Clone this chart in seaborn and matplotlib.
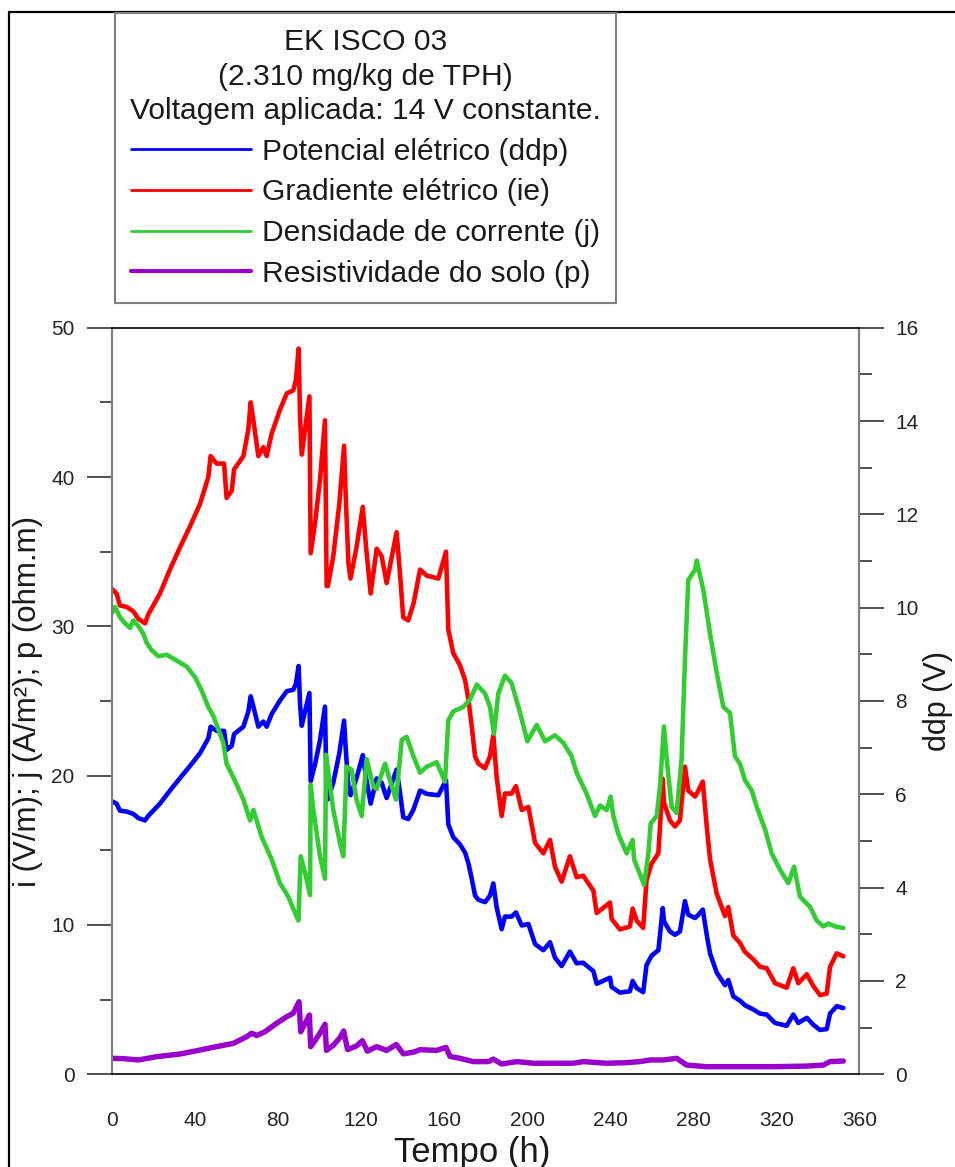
import matplotlib
matplotlib.use("Agg")
import matplotlib.pyplot as plt
import seaborn as sns
from matplotlib.lines import Line2D
from matplotlib.patches import Rectangle
from matplotlib.ticker import MultipleLocator

sns.set_style("white")
plt.rcParams["font.family"] = ["Liberation Sans", "DejaVu Sans"]

# Time (h) of the potential / gradient readings
tempo_ie = [0, 2.2, 3.8, 7.1, 10.3, 12.7, 15.9, 17.5, 23.1, 27.9, 32.8, 37.6, 42.4, 46.4, 47.5,
            50.4, 54.0, 55.2, 57.7, 58.8, 63.3, 65.7, 66.8, 68.1, 70.5, 72.9, 74.5, 76.9, 80.9,
            84.2, 87.3, 88.6, 89.9, 90.6, 91.4, 93.0, 95.1, 95.7, 97.8, 100.2, 102.6, 103.4,
            104.0, 106.6, 109.5, 111.8, 112.6, 113.9, 114.9, 117.8, 120.8, 122.4, 124.6, 127.5,
            129.9, 132.3, 137.1, 138.7, 140.3, 142.7, 145.2, 148.4, 151.6, 157.2, 160.9, 162.0,
            164.4, 167.6, 170.1, 171.7, 173.3, 174.9, 176.5, 179.7, 182.1, 183.7, 185.3, 187.7,
            189.3, 192.5, 194.6, 197.4, 200.6, 203.8, 207.8, 211.0, 213.4, 216.6, 220.6, 223.8,
            227.0, 231.9, 233.5, 239.9, 240.7, 244.7, 249.5, 250.8, 252.7, 255.9, 257.5, 259.9,
            263.2, 264.0, 265.3, 265.9, 268.8, 271.2, 273.6, 276.0, 277.6, 280.9, 282.5, 284.6,
            286.5, 288.1, 291.3, 295.3, 296.9, 299.3, 302.5, 304.9, 308.9, 312.2, 315.4, 319.4,
            325.0, 328.2, 330.6, 334.7, 337.9, 341.1, 344.3, 345.9, 349.1, 352.3]

# Gradiente elétrico (V/m)
ie = [32.5, 32.2, 31.4, 31.3, 31.0, 30.5, 30.2, 30.8, 32.2, 33.8, 35.3, 36.7, 38.2, 40.0, 41.4,
      40.9, 40.9, 38.6, 39.1, 40.5, 41.4, 43.2, 45.0, 43.8, 41.4, 42.0, 41.4, 42.9, 44.5,
      45.6, 45.8, 46.5, 48.6, 44.0, 41.5, 43.2, 45.4, 34.9, 36.9, 39.8, 43.8, 32.7,
      32.7, 34.7, 38.2, 42.1, 38.7, 34.2, 33.2, 35.3, 38.0, 35.3, 32.2, 35.2,
      34.7, 32.9, 36.3, 33.6, 30.6, 30.4, 31.5, 33.8, 33.4, 33.2, 35.0, 29.8,
      28.2, 27.4, 26.4, 25.1, 23.3, 21.3, 20.8, 20.5, 21.3, 22.7, 19.9, 17.3,
      18.8, 18.8, 19.3, 17.7, 17.9, 15.5, 14.8, 15.7, 13.9, 12.9, 14.6, 13.2,
      13.3, 12.3, 10.8, 11.5, 10.4, 9.7, 9.9, 11.1, 10.3, 9.8, 13.0, 14.1,
      14.8, 16.6, 19.8, 18.2, 17.0, 16.6, 17.0, 20.6, 19.0, 18.6, 19.0, 19.6,
      16.6, 14.4, 12.1, 10.6, 11.2, 9.3, 8.8, 8.2, 7.7, 7.2, 7.1, 6.1,
      5.8, 7.1, 6.1, 6.7, 5.9, 5.3, 5.4, 7.2, 8.1, 7.9]

# Potencial elétrico (V)
ddp = [5.85, 5.80, 5.65, 5.63, 5.58, 5.49, 5.44, 5.54, 5.80, 6.08, 6.35, 6.61, 6.88, 7.20, 7.45,
       7.36, 7.36, 6.95, 7.04, 7.29, 7.45, 7.78, 8.10, 7.88, 7.45, 7.56, 7.45, 7.72, 8.01,
       8.21, 8.24, 8.37, 8.75, 7.92, 7.47, 7.78, 8.17, 6.28, 6.64, 7.16, 7.88, 5.89,
       5.89, 6.25, 6.88, 7.58, 6.97, 6.16, 5.98, 6.35, 6.84, 6.35, 5.80, 6.34,
       6.25, 5.92, 6.53, 6.05, 5.51, 5.47, 5.67, 6.08, 6.01, 5.98, 6.30, 5.36,
       5.08, 4.93, 4.75, 4.52, 4.19, 3.83, 3.74, 3.69, 3.83, 4.09, 3.58, 3.11,
       3.38, 3.38, 3.47, 3.19, 3.22, 2.79, 2.66, 2.83, 2.50, 2.32, 2.63, 2.38,
       2.39, 2.21, 1.94, 2.07, 1.87, 1.75, 1.78, 2.00, 1.85, 1.76, 2.34, 2.54,
       2.66, 2.99, 3.56, 3.28, 3.06, 2.99, 3.06, 3.71, 3.42, 3.35, 3.42, 3.53,
       2.99, 2.59, 2.18, 1.91, 2.02, 1.67, 1.58, 1.48, 1.39, 1.30, 1.28, 1.10,
       1.04, 1.28, 1.10, 1.21, 1.06, 0.95, 0.97, 1.30, 1.46, 1.42]

# Densidade de corrente (A/m²)
tempo_j = [0, 1.4, 3.9, 6.3, 8.7, 10.3, 12.7, 15.1, 16.7, 19.1, 22.3, 26.3, 31.2, 36.0, 40.0,
           43.2, 46.4, 48.8, 53.6, 55.2, 58.4, 63.3, 66.5, 68.1, 72.1, 76.9, 80.9, 84.9, 88.2,
           89.8, 90.9, 93.0, 95.4, 95.7, 97.0, 100.2, 102.6, 103.1, 106.6, 109.8, 111.4, 113.0,
           115.4, 117.8, 120.3, 122.7, 125.8, 127.5, 131.5, 133.9, 136.8, 139.6, 141.9, 145.2,
           148.4, 151.6, 156.4, 160.4, 162.0, 164.4, 169.2, 172.5, 175.7, 179.7, 182.1, 184.0,
           186.1, 189.3, 192.5, 196.6, 200.1, 204.6, 208.6, 213.4, 217.4, 221.4, 223.8, 228.6,
           232.7, 235.1, 238.3, 240.2, 241.5, 243.9, 247.9, 250.8, 251.5, 256.3, 258.4, 259.5,
           262.4, 264.0, 265.9, 267.2, 269.6, 272.0, 274.4, 276.0, 277.6, 280.9, 281.7, 284.9,
           288.1, 291.3, 294.5, 297.7, 300.1, 302.5, 304.9, 308.2, 310.6, 314.6, 317.8, 321.8,
           325.8, 328.6, 331.4, 336.3, 339.5, 342.7, 345.1, 348.3, 352.3]
j = [30.9, 31.3, 30.6, 30.2, 29.9, 30.4, 30.0, 29.5, 28.9, 28.4, 28.0, 28.1, 27.7, 27.3, 26.6,
     25.7, 24.6, 24.0, 22.2, 20.8, 19.9, 18.4, 17.0, 17.7, 15.9, 14.4, 12.8, 11.9, 10.8,
     10.3, 14.6, 13.5, 12.0, 19.4, 17.7, 14.6, 13.1, 21.4, 17.7, 15.5, 14.6, 20.6,
     20.4, 18.4, 17.3, 21.1, 19.3, 19.1, 20.8, 19.7, 18.4, 22.4, 22.6, 21.3,
     20.2, 20.6, 20.9, 19.6, 23.7, 24.3, 24.6, 25.1, 26.1, 25.5, 24.6, 22.8,
     25.5, 26.7, 26.2, 24.2, 22.3, 23.4, 22.3, 22.7, 22.2, 21.3, 20.2, 18.8,
     17.3, 18.0, 17.7, 18.6, 17.3, 16.1, 14.8, 15.7, 14.4, 12.7, 14.8, 16.8,
     17.3, 19.3, 23.3, 21.1, 17.9, 17.5, 21.1, 27.7, 33.1, 33.8, 34.4, 32.4,
     29.5, 26.9, 24.6, 24.2, 21.3, 20.8, 19.7, 19.0, 17.9, 16.4, 14.8, 13.7,
     12.8, 13.9, 11.9, 11.2, 10.3, 9.9, 10.1, 9.9, 9.8]

# Resistividade do solo (ohm.m)
tempo_p = [0, 5.4, 12.7, 21.5, 32.8, 40.8, 48.8, 58.4, 64.9, 67.3, 69.7, 73.7, 79.3, 84.2, 87.3,
           90.1, 90.9, 93.0, 95.1, 95.7, 97.5, 100.2, 102.6, 103.3, 106.6, 109.8, 111.6, 113.5,
           117.8, 120.6, 123.0, 127.5, 132.3, 137.0, 140.3, 145.2, 148.4, 156.4, 160.9, 162.8,
           167.6, 174.1, 181.4, 183.7, 187.7, 195.0, 203.0, 212.6, 222.2, 227.0, 238.3, 247.9,
           254.3, 259.2, 265.6, 272.0, 276.8, 286.4, 302.5, 318.6, 334.7, 342.7, 345.9, 352.3]
p = [1.07, 1.05, 0.96, 1.18, 1.36, 1.58, 1.81, 2.07, 2.52, 2.75, 2.60, 2.85, 3.42, 3.86, 4.09,
     4.86, 2.85, 3.40, 3.97, 1.85, 2.20, 2.75, 3.35, 1.60, 1.95, 2.45, 2.90, 1.65,
     1.90, 2.25, 1.55, 1.85, 1.60, 2.00, 1.37, 1.48, 1.65, 1.60, 1.80, 1.20,
     1.07, 0.85, 0.85, 1.02, 0.69, 0.85, 0.74, 0.74, 0.74, 0.85, 0.74, 0.78,
     0.85, 0.96, 0.96, 1.07, 0.62, 0.51, 0.51, 0.51, 0.55, 0.62, 0.85, 0.89]

cor_ddp, cor_ie, cor_j, cor_p = "#0000FF", "#FF0000", "#33CC33", "#9900CC"
rotulos = ["Potencial elétrico (ddp)", "Gradiente elétrico (ie)",
           "Densidade de corrente (j)", "Resistividade do solo (p)"]

W, H = 955, 1167
fig = plt.figure(figsize=(W / 100, H / 100), dpi=100)
x0, x1, y0, y1 = 112, 859.3, 327.7, 1074.3
ax = fig.add_axes([x0 / W, 1 - y1 / H, (x1 - x0) / W, (y1 - y0) / H])
ax2 = ax.twinx()

# ddp on the right-hand axis, drawn beneath the left-axis series
sns.lineplot(x=tempo_ie, y=ddp, ax=ax2, color=cor_ddp, lw=3.3, estimator=None, sort=False)
sns.lineplot(x=tempo_ie, y=ie, ax=ax, color=cor_ie, lw=3.3, estimator=None, sort=False)
sns.lineplot(x=tempo_j, y=j, ax=ax, color=cor_j, lw=3.3, estimator=None, sort=False)
sns.lineplot(x=tempo_p, y=p, ax=ax, color=cor_p, lw=3.9, estimator=None, sort=False)
ax.set_zorder(ax2.get_zorder() + 1)
ax.patch.set_visible(False)

ax.set_xlim(0, 360)
ax.set_ylim(0, 50)
ax2.set_ylim(0, 16)
ax.xaxis.set_major_locator(MultipleLocator(40))
ax.xaxis.set_minor_locator(MultipleLocator(20))
ax.yaxis.set_major_locator(MultipleLocator(10))
ax.yaxis.set_minor_locator(MultipleLocator(5))
ax2.yaxis.set_major_locator(MultipleLocator(2))
ax2.yaxis.set_minor_locator(MultipleLocator(1))

for s in ["top", "bottom"]:
    ax.spines[s].set_color("black")
    ax.spines[s].set_linewidth(1.2)
ax.spines["left"].set_color("#808080")
ax.spines["left"].set_linewidth(1.6)
ax.spines["right"].set_visible(False)
for s in ["top", "bottom", "left"]:
    ax2.spines[s].set_visible(False)
ax2.spines["right"].set_color("#808080")
ax2.spines["right"].set_linewidth(1.6)

lab = dict(labelsize=15, labelcolor="#262626")
ax.tick_params(axis="x", which="major", direction="out", length=17.5, width=1.3,
               color="#707070", pad=9, **lab)
ax.tick_params(axis="x", which="minor", direction="out", length=8.5, width=1.3, color="#707070")
ax.tick_params(axis="y", which="major", direction="out", length=18, width=1.1,
               color="#202020", pad=9, **lab)
ax.tick_params(axis="y", which="minor", direction="out", length=8.5, width=1.1, color="#202020")
ax2.tick_params(axis="y", which="major", direction="out", length=18, width=1.1,
                color="#202020", pad=8, **lab)
ax2.tick_params(axis="y", which="minor", direction="out", length=9, width=1.1, color="#202020")

ax.set_xlabel("Tempo (h)", fontsize=25, color="#1a1a1a", va="top")
ax.xaxis.set_label_coords((472 - x0) / (x1 - x0), -(1136 - y1) / (y1 - y0))
ax.set_ylabel("i (V/m); j (A/m²); p (ohm.m)", fontsize=22.5, color="#1a1a1a", va="center")
ax.yaxis.set_label_coords(-(x0 - 28) / (x1 - x0), 0.5)
ax2.set_ylabel("ddp (V)", fontsize=22, color="#1a1a1a", va="center", rotation=90)
ax2.yaxis.set_label_coords((938 - x0) / (x1 - x0), 0.5)

handles = [Line2D([], [], color=c, lw=w) for c, w in
           [(cor_ddp, 2.0), (cor_ie, 2.0), (cor_j, 2.0), (cor_p, 3.0)]]
leg = fig.legend(handles, rotulos,
                 title="EK ISCO 03\n(2.310 mg/kg de TPH)\nVoltagem aplicada: 14 V constante.",
                 loc="upper left", bbox_to_anchor=(115 / W, 1 - 13 / H),
                 bbox_transform=fig.transFigure, fontsize=21.6, title_fontsize=21.6,
                 frameon=True, fancybox=False, edgecolor="#808080", framealpha=1,
                 borderpad=0.5, handlelength=4.0, handletextpad=0.38,
                 labelspacing=0.42, borderaxespad=0)
leg.get_frame().set_linewidth(1.5)
leg.get_title().set_multialignment("center")
leg.get_title().set_linespacing(1.3)
for t in leg.get_texts():
    t.set_color("#1a1a1a")
leg.get_title().set_color("#1a1a1a")

# outer frame of the figure panel
fig.add_artist(Rectangle((9 / W, -0.2), 2, 1.2 - 12 / H, transform=fig.transFigure,
                         fill=False, edgecolor="black", lw=1.6, clip_on=False))

fig.savefig("out.png", dpi=100)
